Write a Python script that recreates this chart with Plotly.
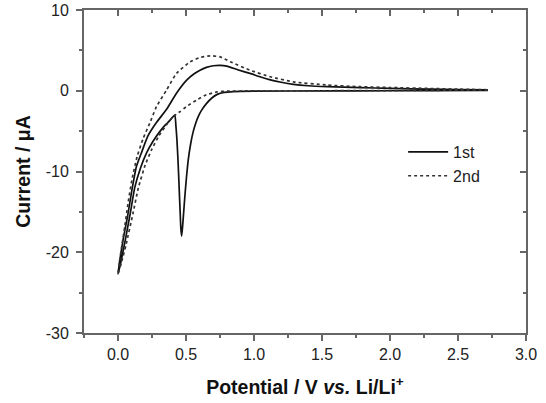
import plotly.graph_objects as go

# 1st cycle (solid): cathodic sweep from OCV to 0 V, then anodic back
first_x = [2.72, 2.3, 2.0, 1.5, 1.0, 0.85, 0.78, 0.73, 0.69, 0.65, 0.615, 0.59, 0.572, 0.554, 0.535, 0.517, 0.503, 0.492, 0.483, 0.475, 0.468,
           0.462, 0.457, 0.452, 0.446, 0.440, 0.433, 0.426, 0.418, 0.40, 0.38, 0.35, 0.31, 0.26, 0.21, 0.165, 0.123, 0.09, 0.05, 0.02, 0.0,
           0.015, 0.04, 0.07, 0.10, 0.135, 0.172, 0.22, 0.28, 0.357, 0.43, 0.505, 0.56, 0.603, 0.65, 0.70, 0.75, 0.80, 0.88, 0.97, 1.05, 1.12, 1.2, 1.29, 1.4, 1.54, 1.78, 2.0, 2.3, 2.5, 2.72]
first_y = [0.05, 0.02, 0.0, -0.02, -0.05, -0.1, -0.2, -0.45, -0.9, -1.6, -2.4, -3.2, -4.0, -5.0, -6.5, -8.5, -10.8, -13.0, -15.0, -16.8, -18.0,
           -17.0, -15.0, -13.0, -10.5, -8.2, -6.0, -4.4, -3.0, -3.3, -3.7, -4.2, -5.0, -6.2, -7.7, -9.6, -12.0, -15.2, -18.8, -21.3, -22.7,
           -20.8, -18.2, -15.6, -12.5, -9.4, -7.7, -5.6, -4.0, -2.3, -0.3, 1.32, 2.1, 2.55, 2.9, 3.1, 3.15, 3.05, 2.6, 2.15, 1.7, 1.35, 1.05, 0.8, 0.62, 0.5, 0.38, 0.3, 0.2, 0.15, 0.1]

# 2nd cycle (dotted)
second_x = [2.72, 2.3, 2.0, 1.5, 1.0, 0.8, 0.726, 0.65, 0.578, 0.5, 0.455, 0.406, 0.357, 0.30, 0.25, 0.20, 0.15, 0.11, 0.06, 0.025, 0.0,
            0.012, 0.03, 0.05, 0.075, 0.105, 0.14, 0.185, 0.234, 0.283, 0.357, 0.43, 0.53, 0.60, 0.678, 0.75, 0.825, 0.97, 1.12, 1.29, 1.54, 1.78, 2.0, 2.3, 2.5, 2.72]
second_y = [0.1, 0.05, 0.02, 0.0, -0.02, -0.05, -0.15, -0.5, -1.15, -2.0, -2.6, -3.2, -4.2, -5.6, -7.2, -9.2, -12.0, -15.2, -19.0, -21.3, -22.7,
            -21.0, -19.0, -16.8, -13.8, -10.8, -8.2, -5.9, -4.0, -1.97, 0.09, 2.15, 3.58, 4.1, 4.33, 4.2, 3.6, 2.55, 1.73, 1.1, 0.7, 0.5, 0.4, 0.28, 0.2, 0.12]

series_names = ["1st", "2nd"]
x_ticks = [0.0, 0.5, 1.0, 1.5, 2.0, 2.5, 3.0]
x_tick_labels = ["0.0", "0.5", "1.0", "1.5", "2.0", "2.5", "3.0"]
y_ticks = [-30, -20, -10, 0, 10]
y_tick_labels = ["-30", "-20", "-10", "0", "10"]

FONT = "Liberation Sans, Arial, sans-serif"
AX = "#666666"

fig = go.Figure()
fig.add_trace(go.Scatter(x=first_x, y=first_y, mode="lines", name=series_names[0],
                         line=dict(color="#111111", width=1.7, shape="spline", smoothing=0.5)))
fig.add_trace(go.Scatter(x=second_x, y=second_y, mode="lines", name=series_names[1],
                         line=dict(color="#333333", width=1.7, dash="dot", shape="spline", smoothing=0.5)))
# invisible companion for mirrored top/right axes
fig.add_trace(go.Scatter(x=first_x, y=first_y, mode="lines", xaxis="x2", yaxis="y2",
                         line=dict(width=0, color="rgba(0,0,0,0)"), showlegend=False, hoverinfo="skip"))

common = dict(showline=True, linecolor=AX, linewidth=2, showgrid=False, zeroline=False,
              tickcolor=AX, tickwidth=1.5, automargin=False)

fig.update_layout(
    width=546, height=403,
    margin=dict(l=84, r=20, t=10, b=70),
    paper_bgcolor="white", plot_bgcolor="white",
    font=dict(family=FONT, size=16, color="#222222"),
    xaxis=dict(range=[-0.25, 3.0], tickvals=x_ticks, ticktext=x_tick_labels, ticks="outside", ticklen=6,
               tickfont=dict(size=16, color="#222222"),
               minor=dict(dtick=0.25, tick0=0, ticks="outside", ticklen=3, tickcolor=AX, tickwidth=1.5),
               title=dict(text="<b>Potential / V <i>vs.</i> Li/Li<sup>+</sup></b>", font=dict(size=19.5, color="#111111"), standoff=18),
               **common),
    yaxis=dict(range=[-30, 10], tickvals=y_ticks, ticktext=y_tick_labels, ticks="outside", ticklen=6,
               tickfont=dict(size=16, color="#222222"), ticklabelstandoff=4,
               minor=dict(dtick=5, tick0=0, ticks="outside", ticklen=3, tickcolor=AX, tickwidth=1.5),
               title=dict(text="<b>Current / μA</b>", font=dict(size=19.5, color="#111111"), standoff=10),
               **common),
    xaxis2=dict(range=[-0.25, 3.0], overlaying="x", side="top", tickvals=x_ticks, showticklabels=False,
                ticks="inside", ticklen=6,
                minor=dict(dtick=0.25, tick0=0, ticks="inside", ticklen=3, tickcolor=AX, tickwidth=1.5),
                **common),
    yaxis2=dict(range=[-30, 10], overlaying="y", side="right", tickvals=y_ticks, showticklabels=False,
                ticks="inside", ticklen=6,
                minor=dict(dtick=5, tick0=0, ticks="inside", ticklen=3, tickcolor=AX, tickwidth=1.5),
                **common),
    legend=dict(x=0.722, y=0.523, xanchor="left", yanchor="middle", bgcolor="rgba(0,0,0,0)",
                font=dict(size=16, color="#222222"), itemwidth=40, tracegroupgap=0),
    showlegend=True,
)

fig.write_html("out.html", config={"displayModeBar": False},
               post_script="document.body.style.margin='0px';document.body.style.padding='0px';")
